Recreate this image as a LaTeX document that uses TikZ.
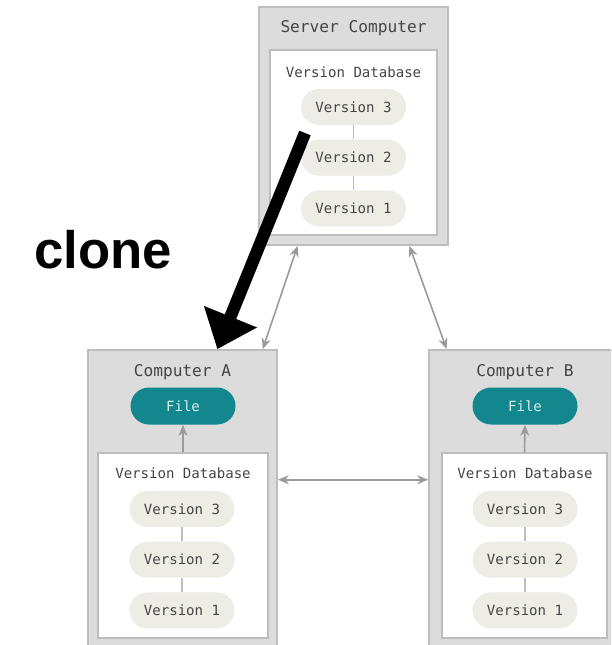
\documentclass[tikz,border=0pt]{standalone}
\usepackage{fontspec}
\setmainfont{Liberation Sans}
\setmonofont{DejaVu Sans Mono}
\usetikzlibrary{arrows.meta,positioning}
\definecolor{boxgrey}{HTML}{DCDCDC}
\definecolor{boxborder}{HTML}{BDBDBD}
\definecolor{pillbeige}{HTML}{EDECE5}
\definecolor{fileteal}{HTML}{12888E}
\definecolor{filetext}{HTML}{D6EEEE}
\definecolor{textgrey}{HTML}{454545}
\definecolor{linkgrey}{HTML}{9A9A9A}

\begin{document}
\begin{tikzpicture}[
  x=0.2mm, y=-0.2mm,
  font=\ttfamily\fontsize{8}{9}\selectfont,
  machine/.style={rectangle, draw=boxborder, fill=boxgrey, line width=1pt, minimum width=3.78cm},
  database/.style={rectangle, draw=boxborder, fill=white, line width=0.8pt, minimum height=3.7cm},
  title/.style={text=textgrey, font=\ttfamily\fontsize{9.2}{10}\selectfont},
  dblabel/.style={text=textgrey},
  version/.style={rectangle, rounded corners=3.6mm, fill=pillbeige, text=textgrey, minimum width=2.1cm, minimum height=0.72cm},
  file/.style={rectangle, rounded corners=3.7mm, fill=fileteal, text=filetext, minimum width=2.1cm, minimum height=0.74cm},
  vline/.style={draw=boxborder, line width=0.8pt},
  link/.style={{Stealth[length=2.2mm,width=1.8mm]}-{Stealth[length=2.2mm,width=1.8mm]}, draw=linkgrey, line width=0.9pt},
  checkout/.style={-{Stealth[length=2.2mm,width=1.8mm]}, draw=linkgrey, line width=0.9pt},
  clonearrow/.style={-{Triangle[length=7mm,width=11mm]}, line width=7pt, draw=black},
  node distance=0.28cm
]
\useasboundingbox (0,0) rectangle (611,645);
\clip (0,0) rectangle (611,645);

% server
\node[machine, minimum height=4.76cm] (srv) at (353.5,126) {};
\node[title] (srvtitle) at (353.5,28) {Server Computer};
\node[database, minimum width=3.34cm] (srvdb) at (353.5,142.5) {};
\node[dblabel] (srvdblabel) at (353.5,72) {Version Database};
\node[version] (srvv3) at (353.5,107) {Version 3};
\node[version, below=of srvv3] (srvv2) {Version 2};
\node[version, below=of srvv2] (srvv1) {Version 1};
\draw[vline] (srvv3) -- (srvv2);
\draw[vline] (srvv2) -- (srvv1);

% computer A
\node[machine, minimum height=6cm] (ca) at (182.5,500) {};
\node[title] (catitle) at (182.5,372) {Computer A};
\node[file] (cafile) at (183,406) {File};
\node[database, minimum width=3.4cm] (cadb) at (183,545.5) {};
\node[dblabel] (cadblabel) at (183,473) {Version Database};
\node[version] (cav3) at (182,509) {Version 3};
\node[version, below=of cav3] (cav2) {Version 2};
\node[version, below=of cav2] (cav1) {Version 1};
\draw[vline] (cav3) -- (cav2);
\draw[vline] (cav2) -- (cav1);
\draw[checkout] (cadb.north) -- (cafile.south);

% computer B
\node[machine, minimum height=6cm] (cb) at (523.5,500) {};
\node[title] (cbtitle) at (525,372) {Computer B};
\node[file] (cbfile) at (525,406) {File};
\node[database, minimum width=3.3cm] (cbdb) at (524.5,545.5) {};
\node[dblabel] (cbdblabel) at (525,473) {Version Database};
\node[version] (cbv3) at (525,509) {Version 3};
\node[version, below=of cbv3] (cbv2) {Version 2};
\node[version, below=of cbv2] (cbv1) {Version 1};
\draw[vline] (cbv3) -- (cbv2);
\draw[vline] (cbv2) -- (cbv1);
\draw[checkout] (cbdb.north) -- (cbfile.south);

% links
\draw[link] (srv.245) -- (ca.62);
\draw[link] (srv.295) -- (cb.117);
\draw[link] (ca.12) -- (cb.168);

% clone
\coordinate (clonestart) at (305,133);
\draw[clonearrow] (clonestart) -- (ca.77);
\node[font=\rmfamily\bfseries\fontsize{30}{36}\selectfont] (clonelabel) at (103,250) {clone};

\end{tikzpicture}
\end{document}
